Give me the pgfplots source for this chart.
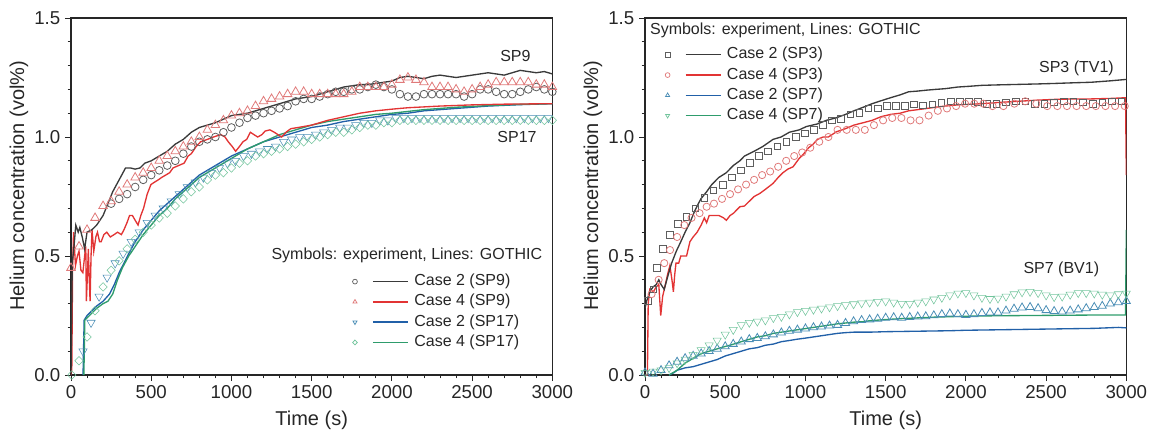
\documentclass[border=0pt]{standalone}
\usepackage{pgfplots}
\pgfplotsset{compat=1.18}
\usepackage{fontspec}
\setmainfont{Liberation Sans}
\definecolor{cblk}{HTML}{3A3A3A}
\definecolor{cgraym}{HTML}{5E5E5E}
\definecolor{cred}{HTML}{E23434}
\definecolor{cpink}{HTML}{E07A7A}
\definecolor{cblue}{HTML}{2160A8}
\definecolor{cbluem}{HTML}{4A8DB5}
\definecolor{cgreen}{HTML}{2E9C6C}
\definecolor{cgreenm}{HTML}{72C49C}
\pgfplotsset{
  base/.style={
    width=361pt, height=267.75pt, scale only axis,
    xmin=0, xmax=3000, ymin=0, ymax=1.5,
    xtick={0,500,...,3000}, ytick={0,0.5,1.0,1.5},
    minor x tick num=4, minor y tick num=4,
    tick align=outside, xtick pos=bottom, ytick pos=left,
    major tick length=4.5pt, minor tick length=2.5pt,
    axis line style={draw=black!85, line width=0.8pt},
    every tick/.style={black!85, line width=0.7pt},
    /pgf/number format/assume math mode=true,
    /pgf/number format/set thousands separator={},
    yticklabel style={/pgf/number format/fixed, /pgf/number format/precision=1, /pgf/number format/fixed zerofill},
    tick label style={font=\fontsize{14}{16}\selectfont, text=black!85},
    xlabel={Time (s)}, ylabel={Helium concentration (vol\%)},
    every axis x label/.style={at={(axis description cs:0.5,-0.128)}, anchor=center, font=\fontsize{15}{18}\selectfont, text=black!85},
    every axis y label/.style={at={(axis description cs:-0.108,0.53)}, rotate=90, anchor=center, font=\fontsize{15}{18}\selectfont, text=black!85},
    legend style={draw=none, fill=none, inner sep=0pt, outer sep=0pt, column sep=4pt, row sep=3.2pt,
      font=\fontsize{12}{14}\selectfont, text=black!85,
      nodes={inner sep=0pt, text height=9pt, text depth=3pt}},
    legend cell align=left,
  },
  lin/.style={no marks, line width=1.0pt, forget plot},
  mk/.style={only marks, mark size=3pt, mark options={line width=0.6pt, fill=none}, forget plot},
  myleg/.style n args={3}{legend image code/.code={
      \draw[#1, line width=0.55pt] plot[#2, mark size=1.8pt] coordinates {(0pt,0pt)};
      \draw[#3, line width=1.0pt] (13.5pt,0pt) -- (40pt,0pt);}},
}
\begin{document}
\begin{tikzpicture}
%================ LEFT =================
\begin{axis}[base, at={(0pt,0pt)}, anchor=south west,
  legend style={at={(axis cs:1755,0.426)}, anchor=north west}]
% experiment: Case 2 (SP9) circles
\addplot[mk, cgraym, mark=o, mark size=2.9pt] coordinates {
(250,0.72)(300,0.74)(350,0.76)(400,0.79)(450,0.82)(500,0.84)(550,0.86)(600,0.88)(650,0.90)(700,0.93)
(750,0.96)(800,0.98)(850,0.99)(900,1.00)(950,1.02)(1000,1.04)(1050,1.06)(1100,1.08)(1150,1.09)(1200,1.10)
(1250,1.11)(1300,1.12)(1350,1.13)(1400,1.15)(1450,1.16)(1500,1.16)(1550,1.17)(1600,1.18)(1650,1.19)(1700,1.19)
(1750,1.20)(1800,1.20)(1850,1.21)(1900,1.22)(1950,1.21)(2000,1.20)(2050,1.18)(2100,1.17)(2150,1.17)(2200,1.18)
(2250,1.18)(2300,1.18)(2350,1.18)(2400,1.18)(2450,1.17)(2500,1.18)(2550,1.20)(2600,1.20)(2650,1.19)(2700,1.18)
(2750,1.18)(2800,1.19)(2850,1.20)(2900,1.21)(2950,1.20)(3000,1.19)};
% experiment: Case 4 (SP9) triangles
\addplot[mk, cpink, mark=triangle, mark size=3.7pt] coordinates {
(0,0.45)(50,0.54)(100,0.61)(150,0.66)(200,0.71)(250,0.73)(300,0.77)(350,0.80)(400,0.83)(450,0.85)
(500,0.87)(550,0.90)(600,0.92)(650,0.94)(700,0.96)(750,0.98)(800,1.00)(850,1.03)(900,1.05)(950,1.07)
(1000,1.09)(1050,1.10)(1100,1.11)(1150,1.13)(1200,1.15)(1250,1.16)(1300,1.17)(1350,1.18)(1400,1.19)(1450,1.19)
(1500,1.18)(1550,1.18)(1600,1.18)(1650,1.18)(1700,1.18)(1750,1.19)(1800,1.21)(1850,1.21)(1900,1.21)(1950,1.21)
(2000,1.22)(2050,1.24)(2100,1.25)(2150,1.24)(2200,1.23)(2250,1.21)(2300,1.21)(2350,1.21)(2400,1.20)(2450,1.19)
(2500,1.20)(2550,1.21)(2600,1.22)(2650,1.23)(2700,1.23)(2750,1.23)(2800,1.23)(2850,1.23)(2900,1.22)(2950,1.22)(3000,1.21)};
% experiment: Case 2 (SP17) down triangles
\addplot[mk, cbluem, mark=triangle, mark size=3.6pt, mark options={rotate=180}] coordinates {
(75,0.10)(125,0.22)(175,0.33)(225,0.41)(275,0.47)(325,0.51)(375,0.56)(425,0.60)(475,0.64)(525,0.67)
(575,0.70)(625,0.73)(675,0.76)(725,0.79)(775,0.81)(825,0.83)(875,0.85)(925,0.87)(975,0.89)(1025,0.90)
(1075,0.92)(1125,0.93)(1175,0.94)(1225,0.95)(1275,0.96)(1325,0.98)(1375,0.99)(1425,1.00)(1475,1.00)(1525,1.01)
(1575,1.02)(1625,1.03)(1675,1.04)(1725,1.04)(1775,1.05)(1825,1.06)(1875,1.06)(1925,1.07)(1975,1.07)(2025,1.08)
(2075,1.08)(2125,1.08)(2175,1.08)(2225,1.08)(2275,1.08)(2325,1.08)(2375,1.08)(2425,1.08)(2475,1.08)(2525,1.08)
(2575,1.08)(2625,1.08)(2675,1.08)(2725,1.08)(2775,1.08)(2825,1.08)(2875,1.08)(2925,1.08)(2975,1.08)};
% experiment: Case 4 (SP17) diamonds
\addplot[mk, cgreenm, mark=diamond, mark size=3.2pt, mark options={xscale=1.3}] coordinates {
(5,0.00)(50,0.06)(100,0.16)(150,0.27)(200,0.37)(250,0.44)(300,0.48)(350,0.53)(400,0.57)(450,0.60)
(500,0.63)(550,0.66)(600,0.68)(650,0.71)(700,0.74)(750,0.77)(800,0.79)(850,0.82)(900,0.84)(950,0.85)
(1000,0.87)(1050,0.89)(1100,0.90)(1150,0.92)(1200,0.93)(1250,0.94)(1300,0.95)(1350,0.96)(1400,0.97)(1450,0.98)
(1500,0.99)(1550,1.00)(1600,1.01)(1650,1.02)(1700,1.02)(1750,1.03)(1800,1.04)(1850,1.05)(1900,1.05)(1950,1.06)
(2000,1.06)(2050,1.07)(2100,1.07)(2150,1.07)(2200,1.07)(2250,1.07)(2300,1.07)(2350,1.07)(2400,1.07)(2450,1.07)
(2500,1.07)(2550,1.07)(2600,1.07)(2650,1.07)(2700,1.07)(2750,1.07)(2800,1.07)(2850,1.07)(2900,1.07)(2950,1.07)(3000,1.07)};
% GOTHIC: Case 2 (SP17)
\addplot[lin, cblue] coordinates {
(75,0)(78,0.10)(82,0.23)(100,0.25)(130,0.27)(160,0.29)(200,0.31)(240,0.34)(270,0.38)(300,0.43)
(330,0.47)(360,0.51)(400,0.56)(450,0.61)(500,0.65)(550,0.69)(600,0.72)(650,0.75)(700,0.78)(750,0.81)
(800,0.84)(850,0.86)(900,0.88)(950,0.90)(1000,0.92)(1100,0.95)(1200,0.98)(1300,1.00)(1400,1.02)(1500,1.04)
(1600,1.05)(1700,1.065)(1800,1.075)(1900,1.085)(2000,1.095)(2100,1.10)(2200,1.11)(2300,1.115)(2400,1.12)
(2500,1.125)(2600,1.13)(2700,1.133)(2800,1.136)(2900,1.138)(3000,1.14)};
% GOTHIC: Case 4 (SP17)
\addplot[lin, cgreen] coordinates {
(80,0)(83,0.10)(86,0.23)(100,0.24)(130,0.26)(160,0.28)(200,0.30)(230,0.31)(260,0.34)(290,0.40)
(320,0.45)(360,0.50)(400,0.54)(450,0.59)(500,0.63)(550,0.67)(600,0.70)(650,0.74)(700,0.77)(750,0.80)
(800,0.83)(850,0.85)(900,0.87)(950,0.89)(1000,0.91)(1100,0.95)(1200,0.98)(1300,1.01)(1400,1.03)(1500,1.05)
(1600,1.065)(1700,1.075)(1800,1.085)(1900,1.095)(2000,1.10)(2200,1.115)(2400,1.125)(2600,1.132)(2800,1.137)(3000,1.14)};
% GOTHIC: Case 4 (SP9)
\addplot[lin, cred] coordinates {
(0,0)(5,0.02)(10,0.45)(16,0.60)(28,0.46)(40,0.50)(50,0.52)(62,0.44)(74,0.43)(85,0.50)
(92,0.54)(96,0.31)(104,0.45)(108,0.53)(114,0.40)(119,0.31)(125,0.50)(131,0.61)(142,0.52)(155,0.58)
(165,0.60)(178,0.56)(188,0.56)(205,0.59)(223,0.60)(245,0.58)(269,0.59)(290,0.60)(314,0.59)(330,0.61)
(349,0.64)(365,0.67)(383,0.67)(400,0.65)(418,0.63)(435,0.67)(452,0.70)(475,0.76)(498,0.80)(520,0.81)
(544,0.82)(565,0.83)(590,0.84)(615,0.85)(636,0.87)(670,0.88)(705,0.89)(730,0.92)(750,0.93)(780,0.96)
(808,0.98)(850,0.99)(888,1.00)(934,1.01)(960,1.00)(980,0.98)(1005,0.96)(1026,0.94)(1050,0.96)(1072,0.98)
(1095,0.99)(1118,1.02)(1140,1.01)(1164,1.00)(1190,1.01)(1210,1.025)(1240,1.03)(1267,1.02)(1290,1.01)(1313,1.00)
(1340,1.02)(1370,1.035)(1416,1.04)(1500,1.05)(1600,1.07)(1700,1.085)(1800,1.10)(1900,1.11)(2000,1.117)
(2100,1.123)(2300,1.13)(2500,1.135)(2700,1.138)(3000,1.14)};
% GOTHIC: Case 2 (SP9)
\addplot[lin, cblk] coordinates {
(0,0)(8,0.47)(20,0.55)(30,0.63)(45,0.60)(55,0.62)(70,0.58)(85,0.53)(100,0.60)(130,0.61)
(160,0.63)(200,0.67)(230,0.72)(260,0.77)(300,0.82)(340,0.87)(370,0.87)(400,0.865)(430,0.87)(460,0.89)
(500,0.90)(550,0.92)(600,0.94)(650,0.97)(700,0.99)(750,1.02)(800,1.04)(850,1.05)(900,1.06)(950,1.075)
(1000,1.09)(1050,1.095)(1100,1.10)(1150,1.11)(1200,1.12)(1250,1.13)(1300,1.14)(1350,1.15)(1400,1.16)(1450,1.165)
(1500,1.17)(1550,1.18)(1600,1.19)(1650,1.20)(1700,1.21)(1750,1.215)(1800,1.22)(1850,1.22)(1900,1.225)(1950,1.23)
(2000,1.235)(2050,1.25)(2100,1.255)(2150,1.25)(2200,1.245)(2250,1.255)(2300,1.26)(2350,1.255)(2400,1.25)(2450,1.255)
(2500,1.26)(2550,1.265)(2600,1.27)(2650,1.265)(2700,1.26)(2750,1.27)(2800,1.28)(2850,1.275)(2900,1.27)(2950,1.275)(3000,1.265)};
\addlegendimage{myleg={cgraym}{mark=o}{cblk}}
\addlegendentry{Case 2 (SP9)}
\addlegendimage{myleg={cpink}{mark=triangle, mark size=2.2pt}{cred}}
\addlegendentry{Case 4 (SP9)}
\addlegendimage{myleg={cbluem}{mark=triangle, mark size=2.2pt, mark options={rotate=180}}{cblue}}
\addlegendentry{Case 2 (SP17)}
\addlegendimage{myleg={cgreenm}{mark=diamond, mark size=2.2pt, mark options={xscale=1.3}}{cgreen}}
\addlegendentry{Case 4 (SP17)}
\node[font=\fontsize{12}{14}\selectfont, text=black!85, anchor=mid, inner sep=0pt] at (axis cs:2093,0.50) {Symbols: experiment, Lines: GOTHIC};
\node[font=\fontsize{12}{14}\selectfont, text=black!85, anchor=mid, inner sep=0pt] at (axis cs:2770,1.33) {SP9};
\node[font=\fontsize{12}{14}\selectfont, text=black!85, anchor=mid, inner sep=0pt] at (axis cs:2780,0.99) {SP17};
\end{axis}
%================ RIGHT =================
\begin{axis}[base, at={(430.5pt,0pt)}, anchor=south west,
  legend style={at={(axis cs:126,1.379)}, anchor=north west}]
% experiment: Case 2 (SP3) squares
\addplot[mk, cgraym, mark=square, mark size=2.5pt] coordinates {
(18,0.31)(52,0.36)(75,0.45)(112,0.53)(155,0.59)(205,0.635)(257,0.665)(314,0.70)(370,0.745)(427,0.775)
(484,0.80)(541,0.83)(598,0.86)(655,0.89)(711,0.92)(768,0.94)(825,0.96)(882,0.98)(939,1.00)(995,1.015)
(1052,1.03)(1109,1.05)(1166,1.07)(1223,1.075)(1280,1.095)(1336,1.10)(1393,1.12)(1450,1.12)(1507,1.13)(1564,1.13)
(1620,1.13)(1677,1.137)(1734,1.133)(1791,1.137)(1848,1.144)(1905,1.15)(1961,1.15)(2018,1.15)(2075,1.147)(2132,1.14)
(2190,1.14)(2250,1.145)(2310,1.15)(2370,1.15)(2430,1.14)(2490,1.14)(2550,1.145)(2610,1.15)(2670,1.15)(2730,1.145)
(2790,1.14)(2850,1.145)(2910,1.15)(2970,1.15)};
% experiment: Case 4 (SP3) circles
\addplot[mk, cpink, mark=o, mark size=2.7pt] coordinates {
(41,0.34)(85,0.40)(120,0.47)(156,0.525)(200,0.58)(245,0.63)(290,0.66)(340,0.68)(384,0.707)(430,0.72)
(480,0.74)(530,0.76)(580,0.78)(630,0.80)(680,0.82)(730,0.84)(780,0.855)(830,0.875)(880,0.90)(930,0.92)
(980,0.935)(1030,0.955)(1086,0.98)(1143,1.00)(1200,1.03)(1257,1.03)(1314,1.03)(1370,1.03)(1427,1.05)(1484,1.07)
(1541,1.08)(1598,1.08)(1655,1.07)(1711,1.07)(1768,1.09)(1825,1.11)(1882,1.12)(1939,1.13)(1995,1.14)(2052,1.14)
(2109,1.14)(2166,1.13)(2234,1.13)(2302,1.14)(2370,1.15)(2439,1.14)(2507,1.13)(2570,1.13)(2630,1.13)(2690,1.13)
(2750,1.13)(2810,1.13)(2870,1.13)(2930,1.13)(2990,1.13)};
% experiment: Case 2 (SP7) up triangles
\addplot[mk, cbluem, mark=triangle, mark size=3.5pt] coordinates {
(0,0.01)(50,0.005)(100,0.02)(150,0.04)(200,0.055)(250,0.07)(300,0.08)(350,0.09)(400,0.10)(450,0.11)
(500,0.12)(550,0.13)(600,0.14)(650,0.15)(700,0.155)(750,0.162)(800,0.17)(850,0.178)(900,0.185)(950,0.19)
(1000,0.195)(1050,0.20)(1100,0.203)(1150,0.207)(1200,0.21)(1250,0.218)(1300,0.225)(1350,0.23)(1400,0.233)(1450,0.236)
(1500,0.24)(1550,0.242)(1600,0.24)(1650,0.243)(1700,0.245)(1750,0.246)(1800,0.25)(1850,0.255)(1900,0.258)(1950,0.255)
(2000,0.252)(2050,0.255)(2100,0.26)(2150,0.262)(2200,0.262)(2250,0.27)(2300,0.278)(2350,0.283)(2400,0.285)(2450,0.28)
(2500,0.272)(2550,0.268)(2600,0.266)(2650,0.27)(2700,0.275)(2750,0.28)(2800,0.285)(2850,0.29)(2900,0.30)(2950,0.305)(3000,0.31)};
% experiment: Case 4 (SP7) down triangles
\addplot[mk, cgreenm, mark=triangle, mark size=3.5pt, mark options={rotate=180}] coordinates {
(0,0.01)(50,0.015)(100,0.02)(150,0.03)(200,0.05)(250,0.065)(300,0.085)(350,0.105)(400,0.125)(450,0.145)
(500,0.17)(550,0.19)(600,0.21)(650,0.22)(700,0.225)(750,0.23)(800,0.24)(850,0.245)(900,0.255)(950,0.265)
(1000,0.27)(1050,0.275)(1100,0.28)(1150,0.285)(1200,0.29)(1250,0.294)(1300,0.298)(1350,0.302)(1400,0.305)(1450,0.308)
(1500,0.31)(1550,0.305)(1600,0.30)(1650,0.30)(1700,0.305)(1750,0.31)(1800,0.318)(1850,0.325)(1900,0.335)(1950,0.343)
(2000,0.345)(2050,0.335)(2100,0.325)(2150,0.32)(2200,0.322)(2250,0.33)(2300,0.34)(2350,0.348)(2400,0.35)(2450,0.345)
(2500,0.335)(2550,0.328)(2600,0.33)(2650,0.338)(2700,0.345)(2750,0.345)(2800,0.343)(2850,0.338)(2900,0.335)(2950,0.34)(3000,0.343)};
% GOTHIC: Case 2 (SP7)
\addplot[lin, cblue] coordinates {
(150,0)(180,0.01)(200,0.02)(250,0.03)(300,0.035)(350,0.045)(400,0.055)(450,0.065)(500,0.08)(550,0.09)
(600,0.10)(650,0.11)(700,0.115)(750,0.125)(800,0.13)(850,0.14)(900,0.145)(944,0.15)(1000,0.155)(1050,0.16)
(1100,0.165)(1150,0.17)(1200,0.175)(1250,0.178)(1300,0.18)(1400,0.18)(1500,0.182)(1600,0.183)(1700,0.184)(1800,0.185)
(1900,0.186)(2000,0.188)(2200,0.19)(2400,0.192)(2600,0.194)(2800,0.196)(2950,0.20)(3000,0.198)};
% GOTHIC: Case 4 (SP7)
\addplot[lin, cgreen] coordinates {
(150,0)(200,0.02)(250,0.05)(300,0.07)(350,0.09)(400,0.10)(450,0.11)(500,0.12)(529,0.125)(600,0.14)
(650,0.15)(700,0.16)(750,0.165)(800,0.175)(850,0.18)(900,0.185)(950,0.19)(1000,0.195)(1100,0.205)(1200,0.215)
(1300,0.222)(1359,0.224)(1400,0.228)(1500,0.233)(1600,0.237)(1700,0.24)(1800,0.243)(1900,0.245)(2000,0.247)
(2200,0.249)(2400,0.25)(2600,0.251)(2800,0.252)(2995,0.252)(3000,0.61)};
% GOTHIC: Case 4 (SP3)
\addplot[lin, cred] coordinates {
(0,0)(15,0)(20,0.30)(30,0.36)(52,0.35)(70,0.37)(86,0.38)(98,0.25)(110,0.33)(120,0.36)
(140,0.42)(155,0.46)(168,0.40)(177,0.35)(185,0.42)(193,0.47)(210,0.47)(223,0.50)(259,0.50)(280,0.56)
(300,0.58)(325,0.60)(350,0.63)(370,0.66)(384,0.64)(400,0.67)(430,0.67)(461,0.67)(490,0.66)(507,0.65)
(530,0.67)(552,0.68)(591,0.707)(620,0.71)(650,0.73)(680,0.75)(716,0.763)(750,0.78)(798,0.805)(830,0.83)
(860,0.85)(890,0.865)(923,0.875)(961,0.91)(990,0.93)(1020,0.955)(1048,0.97)(1075,0.99)(1110,1.00)(1143,1.00)
(1193,1.022)(1250,1.035)(1302,1.05)(1360,1.06)(1416,1.07)(1470,1.085)(1530,1.095)(1590,1.10)(1643,1.11)(1700,1.115)
(1757,1.12)(1810,1.125)(1870,1.13)(1950,1.135)(2098,1.14)(2200,1.145)(2325,1.15)(2450,1.155)(2552,1.158)(2680,1.16)
(2780,1.16)(2900,1.162)(2995,1.165)(3000,0.84)};
% GOTHIC: Case 2 (SP3)
\addplot[lin, cblk] coordinates {
(0,0.28)(10,0.31)(30,0.35)(50,0.37)(70,0.38)(86,0.40)(100,0.38)(120,0.36)(140,0.41)(166,0.47)
(195,0.52)(223,0.56)(250,0.60)(280,0.64)(310,0.69)(348,0.74)(384,0.77)(416,0.80)(460,0.83)(507,0.85)
(550,0.88)(591,0.90)(620,0.92)(680,0.94)(734,0.96)(798,0.99)(848,1.00)(900,1.02)(961,1.03)(1006,1.044)
(1075,1.055)(1130,1.07)(1189,1.08)(1250,1.095)(1302,1.11)(1360,1.125)(1416,1.14)(1470,1.152)(1530,1.165)(1590,1.177)
(1643,1.19)(1700,1.193)(1757,1.197)(1810,1.20)(1870,1.203)(1950,1.21)(2020,1.213)(2098,1.217)(2200,1.219)(2325,1.221)
(2450,1.223)(2552,1.225)(2680,1.228)(2780,1.23)(2900,1.236)(3000,1.242)};
\addlegendimage{myleg={cgraym}{mark=square, mark size=1.6pt}{cblk}}
\addlegendentry{Case 2 (SP3)}
\addlegendimage{myleg={cpink}{mark=o}{cred}}
\addlegendentry{Case 4 (SP3)}
\addlegendimage{myleg={cbluem}{mark=triangle, mark size=2.2pt}{cblue}}
\addlegendentry{Case 2 (SP7)}
\addlegendimage{myleg={cgreenm}{mark=triangle, mark size=2.2pt, mark options={rotate=180}}{cgreen}}
\addlegendentry{Case 4 (SP7)}
\node[font=\fontsize{12}{14}\selectfont, text=black!85, anchor=mid west, inner sep=0pt] at (axis cs:30,1.444) {Symbols: experiment, Lines: GOTHIC};
\node[font=\fontsize{12}{14}\selectfont, text=black!85, anchor=mid, inner sep=0pt] at (axis cs:2689,1.284) {SP3 (TV1)};
\node[font=\fontsize{12}{14}\selectfont, text=black!85, anchor=mid, inner sep=0pt] at (axis cs:2595,0.44) {SP7 (BV1)};
\end{axis}
\pgfresetboundingbox
\useasboundingbox (-53.25pt,-46.5pt) rectangle (811.5pt,281.25pt);
\end{tikzpicture}
\end{document}
